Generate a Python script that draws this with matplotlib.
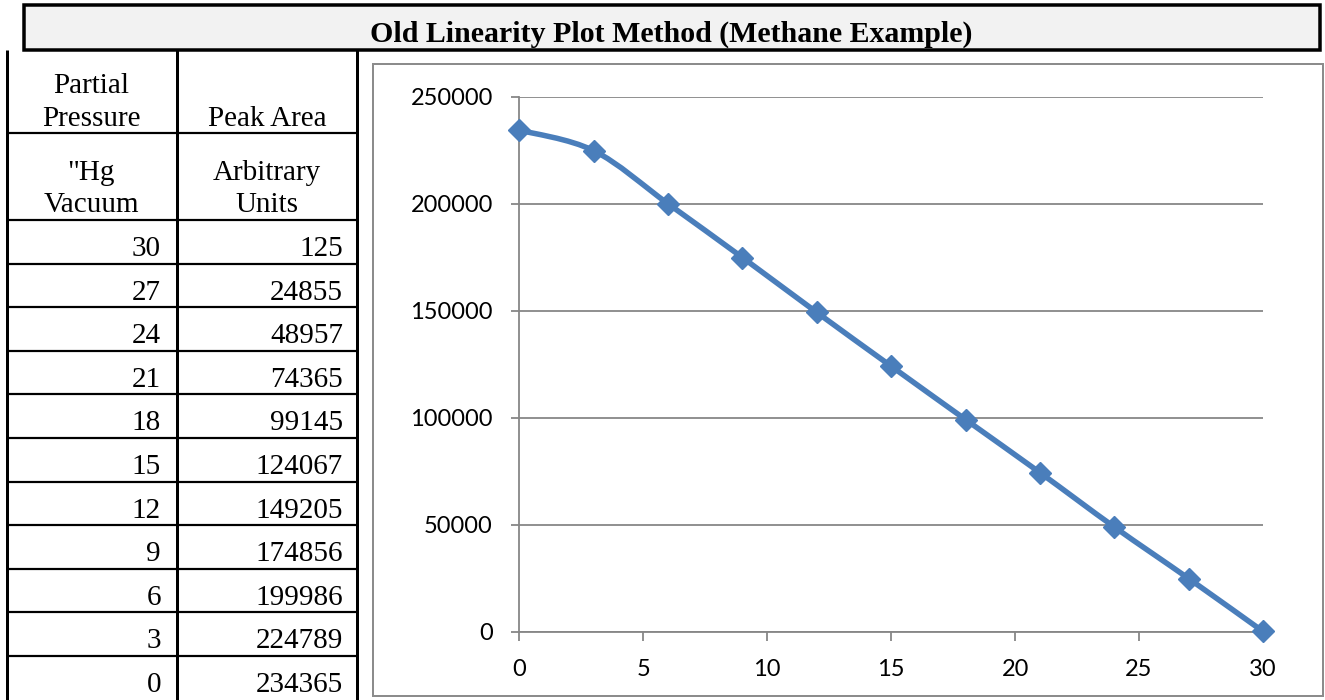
import matplotlib
matplotlib.use("Agg")
import matplotlib.pyplot as plt
from matplotlib.patches import Rectangle
from matplotlib.path import Path
from matplotlib.patches import PathPatch
import numpy as np

# ---------------- data ----------------
title = "Old Linearity Plot Method (Methane Example)"
pressure = [30, 27, 24, 21, 18, 15, 12, 9, 6, 3, 0]
peak_area = [125, 24855, 48957, 74365, 99145, 124067, 149205, 174856, 199986, 224789, 234365]
x_ticks = [0, 5, 10, 15, 20, 25, 30]
y_ticks = [0, 50000, 100000, 150000, 200000, 250000]

W, H = 1325, 700
fig = plt.figure(figsize=(W / 100, H / 100), dpi=100)
px = 72 / 100  # points per pixel

# ---------------- overlay (title + table) ----------------
ov = fig.add_axes([0, 0, 1, 1], zorder=0)
ov.set_xlim(0, W)
ov.set_ylim(H, 0)
ov.axis("off")

serif = "Liberation Serif"
ov.add_patch(Rectangle((24, 5), 1296, 45, facecolor="#f2f2f2", edgecolor="black",
                       linewidth=3.5 * px))
ov.text(671, 41.5, title, ha="center", va="baseline", fontsize=21.5, fontweight="bold",
        family=serif)

# table grid
xl, xm, xr = 7, 177, 357
for xx in (xl, xm, xr):
    ov.plot([xx, xx], [50, 702], color="black", lw=3 * px, solid_capstyle="butt")
row_top = 220
row_h = 43.6
hlines = [133, 220] + [row_top + row_h * (i + 1) for i in range(len(pressure) - 1)]
for yy in hlines:
    ov.plot([xl, xr], [yy, yy], color="black", lw=2.2 * px, solid_capstyle="butt")

fs_tab = 21
c1, c2 = 91, 267
ov.text(c1, 93, "Partial", ha="center", va="baseline", fontsize=fs_tab, family=serif)
ov.text(c1, 126.5, "Pressure", ha="center", va="baseline", fontsize=fs_tab, family=serif)
ov.text(c2, 126.5, "Peak Area", ha="center", va="baseline", fontsize=fs_tab, family=serif)
ov.text(c1, 180, "\"Hg", ha="center", va="baseline", fontsize=fs_tab, family=serif)
ov.text(c1, 212.5, "Vacuum", ha="center", va="baseline", fontsize=fs_tab, family=serif)
ov.text(c2, 180, "Arbitrary", ha="center", va="baseline", fontsize=fs_tab, family=serif)
ov.text(c2, 212.5, "Units", ha="center", va="baseline", fontsize=fs_tab, family=serif)

for i, (p, a) in enumerate(zip(pressure, peak_area)):
    base = row_top + row_h * i + 36
    ov.text(161, base, str(p), ha="right", va="baseline", fontsize=fs_tab, family=serif)
    ov.text(343, base, str(a), ha="right", va="baseline", fontsize=fs_tab, family=serif)

# chart frame
ov.add_patch(Rectangle((373, 64), 950, 632, facecolor="white", edgecolor="#8c8c8c",
                       linewidth=2 * px))

# ---------------- chart ----------------
x0, x1 = 519.3, 1263
y0, y1 = 631.7, 96.7
ax = fig.add_axes([x0 / W, (H - y0) / H, (x1 - x0) / W, (y0 - y1) / H], zorder=1)
ax.set_facecolor("none")
ax.set_xlim(0, 30)
ax.set_ylim(0, 250000)
ax.set_xticks(x_ticks)
ax.set_yticks(y_ticks)
ax.set_xticklabels([str(v) for v in x_ticks])
ax.set_yticklabels([str(v) for v in y_ticks])

gray = "#868686"
for s in ("top", "right"):
    ax.spines[s].set_visible(False)
for s in ("left", "bottom"):
    ax.spines[s].set_color(gray)
    ax.spines[s].set_linewidth(1.8 * px)
ax.yaxis.grid(True, color=gray, linewidth=1.8 * px)
ax.set_axisbelow(True)
ax.tick_params(axis="both", colors=gray, labelcolor="black", width=1.8 * px,
               length=8.5 * px, labelsize=17)
ax.tick_params(axis="y", pad=18 * px)
ax.tick_params(axis="x", pad=18.5 * px)
for lab in ax.get_xticklabels() + ax.get_yticklabels():
    lab.set_family("Lato")

# smoothed line (Catmull-Rom style, like Excel's smoothed line)
order = np.argsort(pressure)
xs = np.array(pressure, dtype=float)[order]
ys = np.array(peak_area, dtype=float)[order]
pts = np.column_stack([xs, ys])
n = len(pts)
verts = [tuple(pts[0])]
codes = [Path.MOVETO]
for i in range(n - 1):
    P0 = pts[i - 1] if i > 0 else pts[i]
    P1 = pts[i]
    P2 = pts[i + 1]
    P3 = pts[i + 2] if i + 2 < n else pts[i + 1]
    c1p = P1 + (P2 - P0) / 6.0
    c2p = P2 - (P3 - P1) / 6.0
    verts += [tuple(c1p), tuple(c2p), tuple(P2)]
    codes += [Path.CURVE4] * 3
blue = "#4a7ebb"
ax.add_patch(PathPatch(Path(verts, codes), facecolor="none", edgecolor=blue,
                       linewidth=5.5 * px, capstyle="round", joinstyle="round",
                       clip_on=False, zorder=3))
ax.plot(xs, ys, linestyle="none", marker="D", markersize=11.5, color=blue,
        markeredgewidth=1, clip_on=False, zorder=4)

fig.savefig("out.png", dpi=100)
